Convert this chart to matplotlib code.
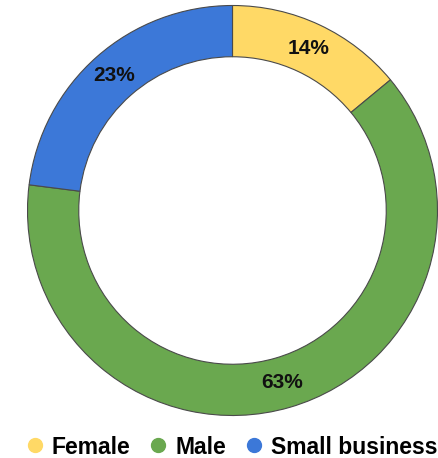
import matplotlib.pyplot as plt
from matplotlib.lines import Line2D

labels = ['Female', 'Male', 'Small business']
shares = [14, 63, 23]
colors = ['#FFD966', '#6AA84F', '#3C78D8']

plt.rcParams['font.family'] = ['Liberation Sans', 'DejaVu Sans']

W, H = 439, 458
fig = plt.figure(figsize=(W / 100, H / 100), dpi=100)

# donut centre ~ (232.5, 210.5) px, outer radius ~205 px
cx, cy, r = 232.5, 210.5, 205
ax = fig.add_axes([(cx - r) / W, (H - cy - r) / H, 2 * r / W, 2 * r / H])

wedges, texts, autotexts = ax.pie(
    shares, colors=colors, startangle=90, counterclock=False,
    autopct='%d%%', pctdistance=0.875, radius=1,
    wedgeprops=dict(width=0.25, edgecolor='#4a4a4a', linewidth=0.8),
    textprops=dict(fontsize=15, fontweight='bold', color='#111111'))
ax.set_xlim(-1, 1)
ax.set_ylim(-1, 1)
ax.set_aspect('equal')
ax.axis('off')

handles = [Line2D([], [], marker='o', linestyle='', markersize=10,
                  markerfacecolor=c, markeredgecolor=c) for c in colors]
fig.legend(handles, labels, loc='center', bbox_to_anchor=(cx / W, (H - 447) / H),
           ncol=3, frameon=False, handlelength=0.6, handletextpad=0.45,
           columnspacing=0.9, borderpad=0,
           prop=dict(size=16.5, weight='bold'))

fig.savefig('out.png', dpi=100)
